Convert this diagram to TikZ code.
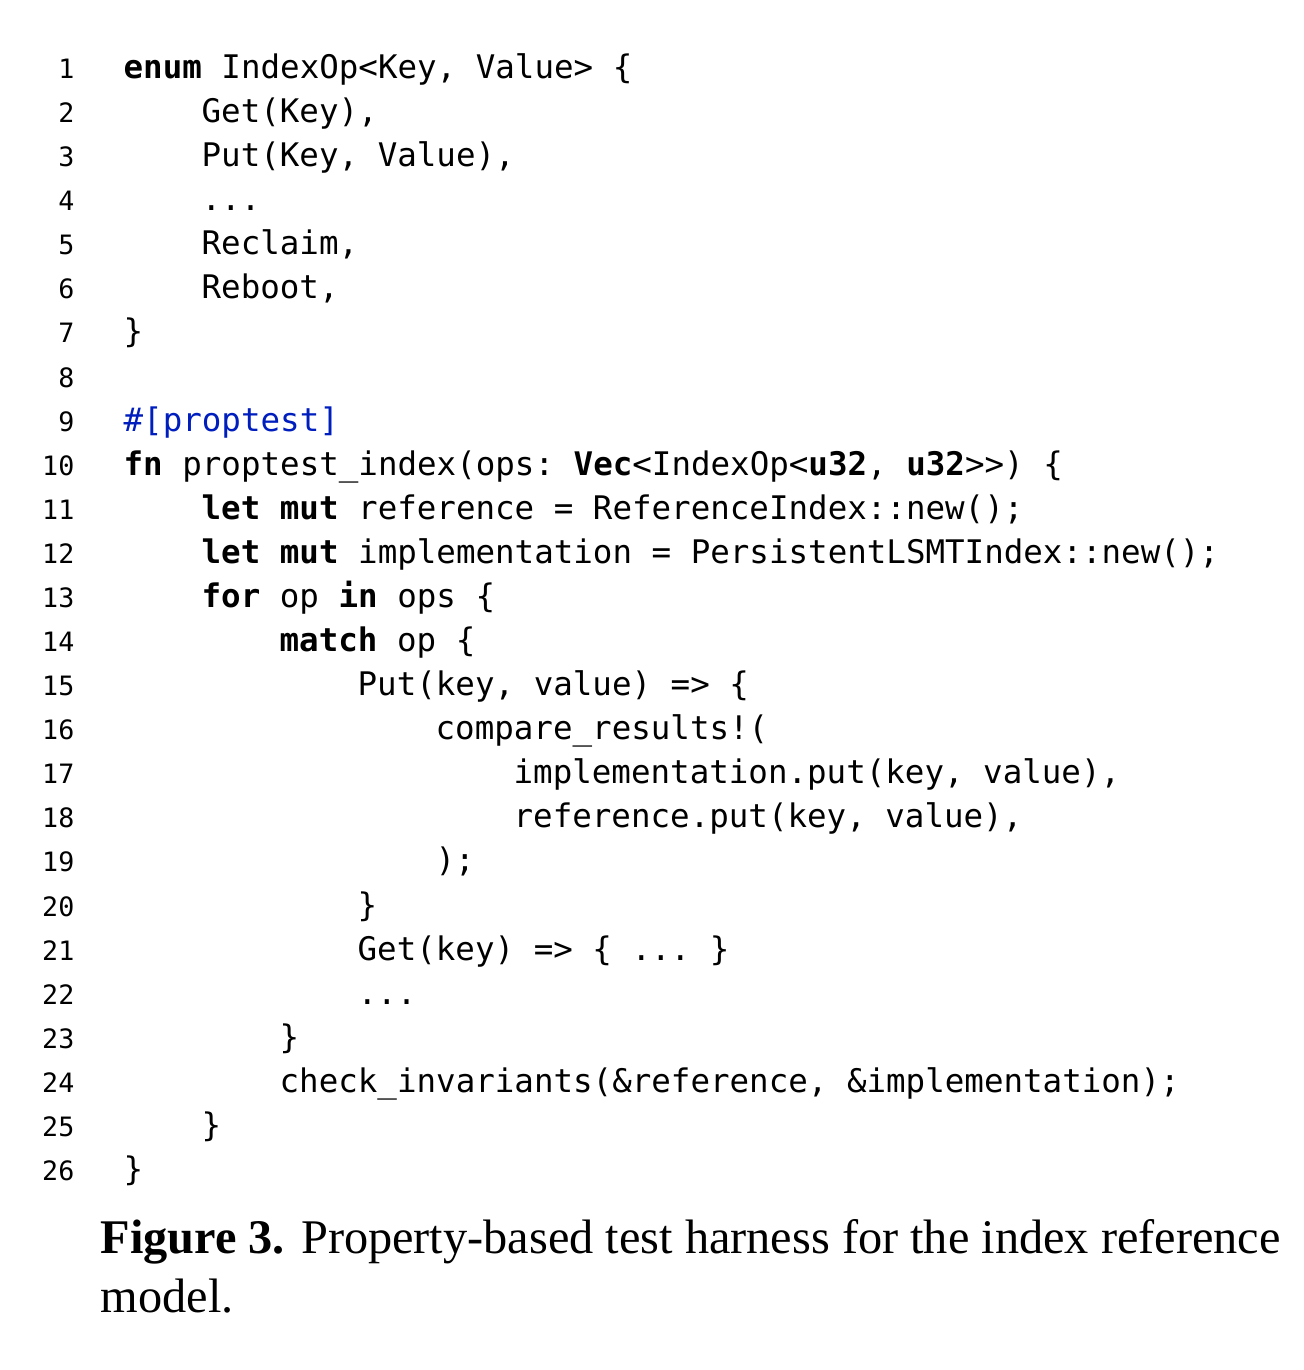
\documentclass[tikz,border=0pt]{standalone}
\usepackage{fontspec}
\setmainfont{Liberation Serif}
\setmonofont{DejaVu Sans Mono}
\definecolor{attrblue}{RGB}{0,30,190}
\newcommand{\kw}[1]{\textbf{#1}}
\tikzset{
		% line numbers on the left, code lines to the right
		lineno/.style={anchor=base east,inner sep=0,font=\fontsize{8}{8}\selectfont\ttfamily},
		codeline/.style={anchor=base west,inner sep=0,font=\fontsize{9.75}{10}\selectfont\ttfamily},
		captionline/.style={anchor=base west,inner sep=0,font=\fontsize{14.5}{17.7}\selectfont}
	}
\begin{document}
\begin{tikzpicture}
		[x=0.3pt,y=-0.3pt]
		\useasboundingbox (0,0) rectangle (1304,1370);
		\foreach \n in {1,...,26}
		\node [lineno] (n\n) at (75,{78.5+(\n-1)*44.08}) {\n};
		\foreach \n/\i/\code in {
			1/0/{\kw{enum} IndexOp<Key, Value> \{},
			2/1/{Get(Key),},
			3/1/{Put(Key, Value),},
			4/1/{...},
			5/1/{Reclaim,},
			6/1/{Reboot,},
			7/0/{\}},
			9/0/{\textcolor{attrblue}{\#[proptest]}},
			10/0/{\kw{fn} proptest\_index(ops: \kw{Vec}<IndexOp<\kw{u32}, \kw{u32}>>) \{},
			11/1/{\kw{let} \kw{mut} reference = ReferenceIndex::new();},
			12/1/{\kw{let} \kw{mut} implementation = PersistentLSMTIndex::new();},
			13/1/{\kw{for} op \kw{in} ops \{},
			14/2/{\kw{match} op \{},
			15/3/{Put(key, value) => \{},
			16/4/{compare\_results!(},
			17/5/{implementation.put(key, value),},
			18/5/{reference.put(key, value),},
			19/4/{);},
			20/3/{\}},
			21/3/{Get(key) => \{ ... \}},
			22/3/{...},
			23/2/{\}},
			24/2/{check\_invariants(\&reference, \&implementation);},
			25/1/{\}},
			26/0/{\}}}
		\node [codeline] (c\n) at ({123+\i*78},{78.5+(\n-1)*44.08}) {\code};
		\node [captionline] (cap1) at (100,1253) {\textbf{Figure 3.} Property-based test harness for the index reference};
		\node [captionline] (cap2) at (100,1312) {model.};
	\end{tikzpicture}
\end{document}
